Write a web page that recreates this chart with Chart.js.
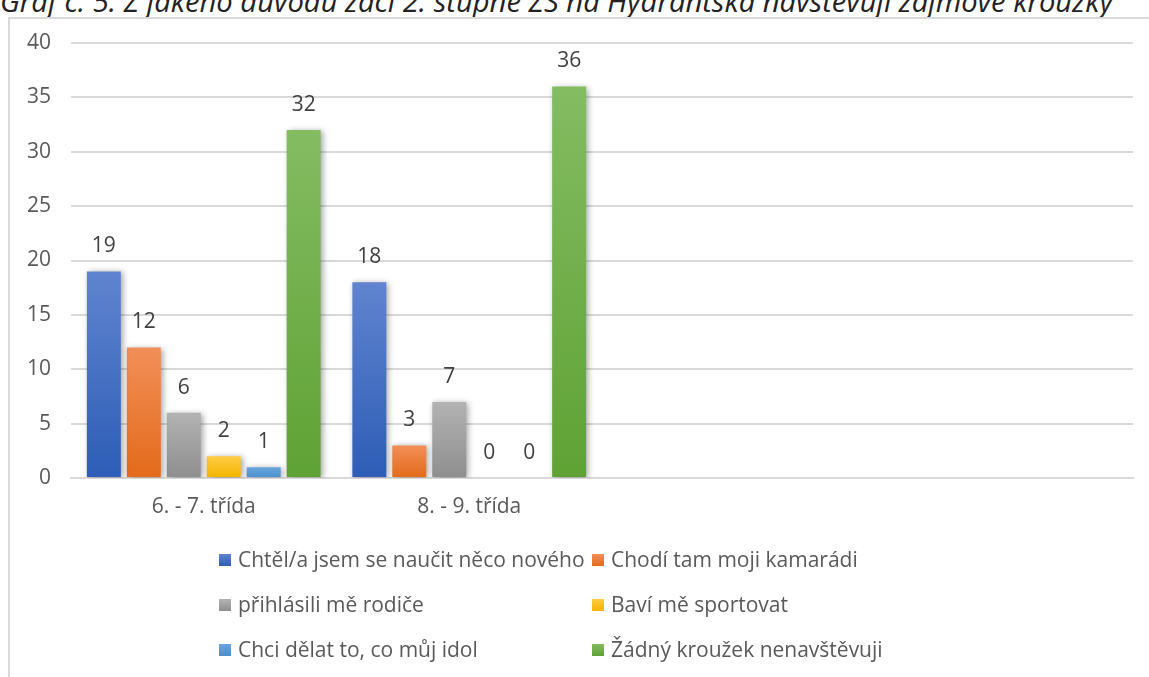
<!DOCTYPE html>
<html>
<head>
<meta charset="utf-8">
<script src="https://cdn.jsdelivr.net/npm/chart.js@4.4.1/dist/chart.umd.min.js"></script>
<style>
  html, body { margin: 0; padding: 0; background: #fff; overflow: hidden; }
  #wrap { position: relative; width: 1149px; height: 677px; overflow: hidden; }
  #title { position: absolute; left: 0px; top: -16px; font-family: "Open Sans", sans-serif; font-style: italic; font-size: 29.2px; line-height: 34px; color: #222; white-space: nowrap; }
  #frame { position: absolute; left: 8px; top: 17px; width: 2000px; height: 2000px; border-left: 2px solid #d9d9d9; border-top: 2px solid #d9d9d9; }
  #c { position: absolute; left: 0; top: 0; }
</style>
</head>
<body>
<div id="wrap">
  <div id="title">Graf č. 5: Z jakého důvodu žáci 2. stupně ZŠ na Hydrantská navštěvují zájmové kroužky</div>
  <div id="frame"></div>
  <canvas id="c" width="1149" height="677"></canvas>
</div>
<script>
const categories = ["6. - 7. třída", "8. - 9. třída", "", ""];
const seriesNames = [
  "Chtěl/a jsem se naučit něco nového",
  "Chodí tam moji kamarádi",
  "přihlásili mě rodiče",
  "Baví mě sportovat",
  "Chci dělat to, co můj idol",
  "Žádný kroužek nenavštěvuji"
];
const novehoValues   = [19, 18, null, null];
const kamaradiValues = [12, 3, null, null];
const rodiceValues   = [6, 7, null, null];
const sportValues    = [2, 0, null, null];
const idolValues     = [1, 0, null, null];
const zadnyValues    = [32, 36, null, null];
const yTicks = [0, 5, 10, 15, 20, 25, 30, 35, 40];

const seriesValues = [novehoValues, kamaradiValues, rodiceValues, sportValues, idolValues, zadnyValues];
const colorTop    = ["#6084cf", "#f28f58", "#b3b3b3", "#ffcc44", "#6aa5dc", "#84bc62"];
const colorBottom = ["#2d5db6", "#e36a1a", "#8e8e8e", "#f4b400", "#4a8fcf", "#5fa234"];
const colorSwatch = ["#4472c4", "#ed7d31", "#a5a5a5", "#ffc000", "#5b9bd5", "#70ad47"];

function gradFor(i) {
  return function (ctx) {
    const chart = ctx.chart;
    const area = chart.chartArea;
    if (!area) return colorSwatch[i];
    const v = ctx.raw;
    if (v === null || v === undefined) return colorSwatch[i];
    const ys = chart.scales.y;
    const top = ys.getPixelForValue(v);
    const bot = ys.getPixelForValue(0);
    if (Math.abs(bot - top) < 1) return colorSwatch[i];
    const g = chart.ctx.createLinearGradient(0, top, 0, bot);
    g.addColorStop(0, colorTop[i]);
    g.addColorStop(1, colorBottom[i]);
    return g;
  };
}

const datasets = seriesNames.map((name, i) => ({
  label: name,
  data: seriesValues[i],
  backgroundColor: gradFor(i),
  borderWidth: 0,
  categoryPercentage: 0.903,
  barPercentage: 0.85
}));

const FONT = "'Open Sans', sans-serif";
const FSIZE = 21;

const shadowPlugin = {
  id: 'shadow',
  beforeDatasetsDraw(chart) {
    const c = chart.ctx;
    c.save();
    c.shadowColor = 'rgba(0,0,0,0.35)';
    c.shadowBlur = 6;
    c.shadowOffsetX = 2;
    c.shadowOffsetY = 1;
  },
  afterDatasetsDraw(chart) {
    chart.ctx.restore();
  }
};

const labelPlugin = {
  id: 'valueLabels',
  afterDatasetsDraw(chart) {
    const c = chart.ctx;
    c.save();
    c.font = FSIZE + "px " + FONT;
    c.fillStyle = "#404040";
    c.textAlign = "center";
    c.textBaseline = "middle";
    chart.data.datasets.forEach((ds, di) => {
      const meta = chart.getDatasetMeta(di);
      meta.data.forEach((bar, idx) => {
        const v = ds.data[idx];
        if (v === null || v === undefined) return;
        c.fillText(String(v), bar.x, bar.y - 25);
      });
    });
    c.restore();
  }
};

const legendPlugin = {
  id: 'gridLegend',
  afterDraw(chart) {
    const c = chart.ctx;
    const colX = [219, 592];
    const rowY = [560, 605, 650];
    c.save();
    c.font = FSIZE + "px " + FONT;
    c.textBaseline = "middle";
    c.textAlign = "left";
    chart.data.datasets.forEach((ds, i) => {
      const x = colX[i % 2];
      const y = rowY[Math.floor(i / 2)];
      const g = c.createLinearGradient(0, y - 6, 0, y + 6);
      g.addColorStop(0, colorTop[i]);
      g.addColorStop(1, colorBottom[i]);
      c.fillStyle = g;
      c.fillRect(x, y - 6, 12, 12);
      c.fillStyle = "#595959";
      c.fillText(ds.label, x + 19, y + 1);
    });
    c.restore();
  }
};

new Chart(document.getElementById('c'), {
  type: 'bar',
  data: { labels: categories, datasets },
  options: {
    responsive: false,
    animation: false,
    layout: { padding: { left: 9, right: 16, top: 43, bottom: 159 } },
    plugins: { legend: { display: false }, tooltip: { enabled: false } },
    scales: {
      x: {
        grid: { display: false, drawTicks: false },
        border: { display: true, color: "#d9d9d9", width: 2 },
        ticks: { color: "#595959", font: { family: FONT, size: FSIZE }, padding: 16, maxRotation: 0 },
        afterFit(s) { s.height = 40; }
      },
      y: {
        min: 0, max: 40,
        afterBuildTicks(s) { s.ticks = yTicks.map(v => ({ value: v })); },
        grid: { color: "#d9d9d9", lineWidth: 2, drawTicks: false },
        border: { display: false },
        ticks: { color: "#595959", font: { family: FONT, size: FSIZE }, padding: 20 },
        afterFit(s) { s.width = 62; }
      }
    }
  },
  plugins: [shadowPlugin, labelPlugin, legendPlugin]
});
</script>
</body>
</html>
